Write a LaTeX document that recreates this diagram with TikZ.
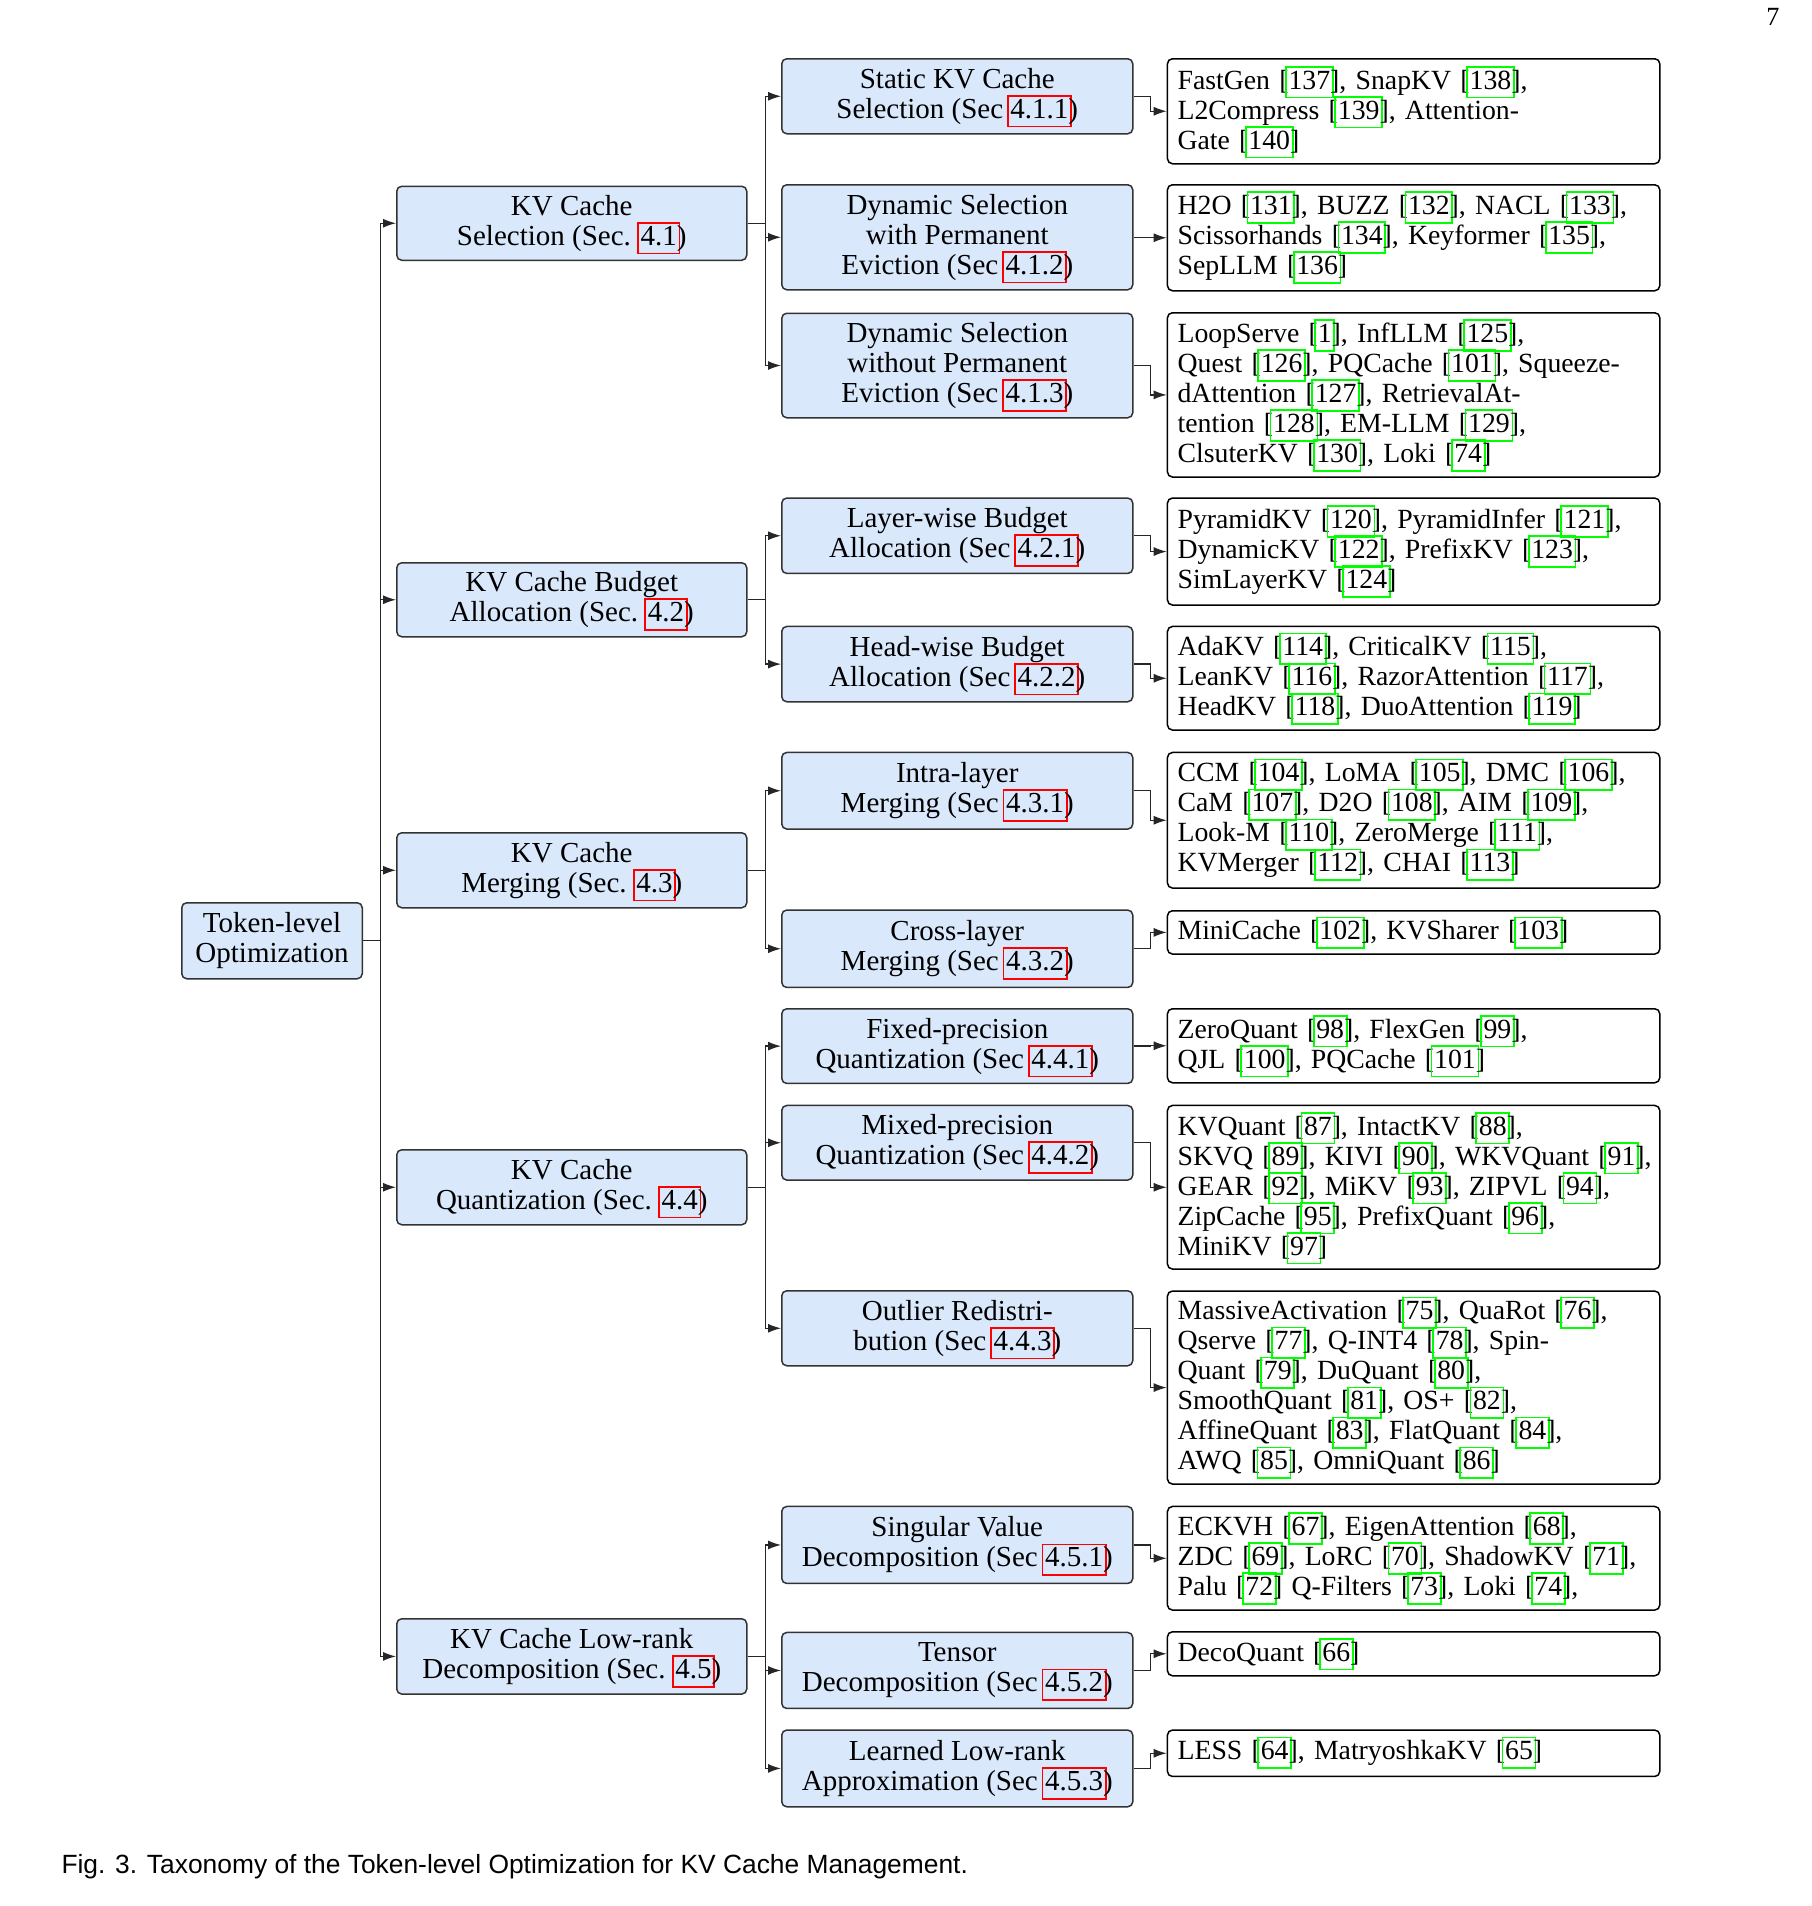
\documentclass[tikz,border=0pt]{standalone}
\usepackage{fontspec}
\setmainfont{Liberation Serif}
\newfontfamily\capfont{Liberation Sans}
\usetikzlibrary{arrows.meta}
\definecolor{boxblue}{HTML}{DAE8FC}
\definecolor{refgreen}{rgb}{0,1,0}
\definecolor{refred}{rgb}{1,0,0}
\definecolor{edgegray}{HTML}{333333}
\newcommand{\hlbox}[2]{\leavevmode\rlap{\smash{\kern-1.4pt\textcolor{#1}{\fboxsep=0pt\fboxrule=0.7pt\fbox{\rule[-3pt]{0pt}{11.6pt}\phantom{#2}\kern1.4pt}}}}#2}
\newcommand{\gb}[1]{\hlbox{refgreen}{#1}}
\newcommand{\rb}[1]{\hlbox{refred}{#1}}
\newcommand{\cit}[1]{[\gb{#1}]}
\newcommand{\lline}[1]{\mbox{#1}}
\newcommand{\mkbox}[7]{\node[#2, minimum width={(#5-#3)*0.4pt}, minimum height={(#6-#4)*0.4pt}] (#1) at (#3,#4) {#7};}
\tikzset{
  bluebox/.style={font=\fontsize{11.6}{12}\selectfont, draw=edgegray, fill=boxblue, line width=0.6pt, rounded corners=2pt, align=center, inner sep=2pt, anchor=north west},
  leafbox/.style={font=\fontsize{11.1}{12}\selectfont, draw=black, fill=white, line width=0.6pt, rounded corners=2pt, align=left, text width=188.8pt, inner xsep=4pt, inner ysep=2pt, anchor=north west},
  conn/.style={draw=black!85, line width=0.5pt, -{Latex[length=5.2pt,width=3.6pt]}},
}
\begin{document}
\begin{tikzpicture}[x=0.4pt, y=-0.4pt]
\fill[white] (0,0) rectangle (1812,1906);
\useasboundingbox (0,0) rectangle (1812,1906);

% root
\mkbox{root}{bluebox}{181}{902}{361.5}{978}{Token-level\\Optimization}

% level 1
\mkbox{sel}{bluebox}{396}{185.5}{746}{259.5}{KV Cache\\Selection (Sec. \rb{4.1})}
\mkbox{bud}{bluebox}{396}{562}{746}{636}{KV Cache Budget\\Allocation (Sec. \rb{4.2})}
\mkbox{mer}{bluebox}{396}{832}{746}{907}{KV Cache\\Merging (Sec. \rb{4.3})}
\mkbox{qua}{bluebox}{396}{1149}{746}{1224}{KV Cache\\Quantization (Sec. \rb{4.4})}
\mkbox{low}{bluebox}{396}{1618}{746}{1693.3}{KV Cache Low-rank\\Decomposition (Sec. \rb{4.5})}

% level 2
\mkbox{sta}{bluebox}{781}{58}{1132}{133}{Static KV Cache\\Selection (Sec \rb{4.1.1})}
\mkbox{dyw}{bluebox}{781}{184}{1132}{289}{Dynamic Selection\\with Permanent\\Eviction (Sec \rb{4.1.2})}
\mkbox{dyo}{bluebox}{781}{312.5}{1132}{417}{Dynamic Selection\\without Permanent\\Eviction (Sec \rb{4.1.3})}
\mkbox{lay}{bluebox}{781}{497.3}{1132}{572.7}{Layer-wise Budget\\Allocation (Sec \rb{4.2.1})}
\mkbox{hea}{bluebox}{781}{625.7}{1132}{701}{Head-wise Budget\\Allocation (Sec \rb{4.2.2})}
\mkbox{intra}{bluebox}{781}{751.7}{1132}{828.3}{Intra-layer\\Merging (Sec \rb{4.3.1})}
\mkbox{cross}{bluebox}{781}{909.3}{1132}{986.7}{Cross-layer\\Merging (Sec \rb{4.3.2})}
\mkbox{fix}{bluebox}{781}{1008}{1132}{1082.7}{Fixed-precision\\Quantization (Sec \rb{4.4.1})}
\mkbox{mix}{bluebox}{781}{1104.7}{1132}{1179.3}{Mixed-precision\\Quantization (Sec \rb{4.4.2})}
\mkbox{out}{bluebox}{781}{1290}{1132}{1365}{Outlier Redistri-\\bution (Sec \rb{4.4.3})}
\mkbox{svd}{bluebox}{781}{1505.7}{1132}{1582.7}{Singular Value\\Decomposition (Sec \rb{4.5.1})}
\mkbox{ten}{bluebox}{781}{1631.7}{1132}{1707.7}{Tensor\\Decomposition (Sec \rb{4.5.2})}
\mkbox{lea}{bluebox}{781}{1729.3}{1132}{1806}{Learned Low-rank\\Approximation (Sec \rb{4.5.3})}

% leaves
\mkbox{l1}{leafbox}{1166.7}{58}{1659}{163}{\lline{FastGen \cit{137}, SnapKV \cit{138},}\\\lline{L2Compress \cit{139}, Attention-}\\\lline{Gate \cit{140}}}
\mkbox{l2}{leafbox}{1166.7}{184}{1659}{290}{\lline{H2O \cit{131}, BUZZ \cit{132}, NACL \cit{133},}\\\lline{Scissorhands \cit{134}, Keyformer \cit{135},}\\\lline{SepLLM \cit{136}}}
\mkbox{l3}{leafbox}{1166.7}{312}{1659}{476.3}{\lline{LoopServe \cit{1}, InfLLM \cit{125},}\\\lline{Quest \cit{126}, PQCache \cit{101}, Squeeze-}\\\lline{dAttention \cit{127}, RetrievalAt-}\\\lline{tention \cit{128}, EM-LLM \cit{129},}\\\lline{ClsuterKV \cit{130}, Loki \cit{74}}}
\mkbox{l4}{leafbox}{1166.7}{497.3}{1659}{604.3}{\lline{PyramidKV \cit{120}, PyramidInfer \cit{121},}\\\lline{DynamicKV \cit{122}, PrefixKV \cit{123},}\\\lline{SimLayerKV \cit{124}}}
\mkbox{l5}{leafbox}{1166.7}{625.7}{1659}{729.3}{\lline{AdaKV \cit{114}, CriticalKV \cit{115},}\\\lline{LeanKV \cit{116}, RazorAttention \cit{117},}\\\lline{HeadKV \cit{118}, DuoAttention \cit{119}}}
\mkbox{l6}{leafbox}{1166.7}{751.7}{1659}{887.3}{\lline{CCM \cit{104}, LoMA \cit{105}, DMC \cit{106},}\\\lline{CaM \cit{107}, D2O \cit{108}, AIM \cit{109},}\\\lline{Look-M \cit{110}, ZeroMerge \cit{111},}\\\lline{KVMerger \cit{112}, CHAI \cit{113}}}
\mkbox{l7}{leafbox}{1166.7}{910}{1659}{953.3}{\lline{MiniCache \cit{102}, KVSharer \cit{103}}}
\mkbox{l8}{leafbox}{1166.7}{1008}{1659}{1082}{\lline{ZeroQuant \cit{98}, FlexGen \cit{99},}\\\lline{QJL \cit{100}, PQCache \cit{101}}}
\mkbox{l9}{leafbox}{1166.7}{1104.7}{1659}{1268.3}{\lline{KVQuant \cit{87}, IntactKV \cit{88},}\\\lline{SKVQ \cit{89}, KIVI \cit{90}, WKVQuant \cit{91},}\\\lline{GEAR \cit{92}, MiKV \cit{93}, ZIPVL \cit{94},}\\\lline{ZipCache \cit{95}, PrefixQuant \cit{96},}\\\lline{MiniKV \cit{97}}}
\mkbox{l10}{leafbox}{1166.7}{1290.3}{1659}{1483.3}{\lline{MassiveActivation \cit{75}, QuaRot \cit{76},}\\\lline{Qserve \cit{77}, Q-INT4 \cit{78}, Spin-}\\\lline{Quant \cit{79}, DuQuant \cit{80},}\\\lline{SmoothQuant \cit{81}, OS+ \cit{82},}\\\lline{AffineQuant \cit{83}, FlatQuant \cit{84},}\\\lline{AWQ \cit{85}, OmniQuant \cit{86}}}
\mkbox{l11}{leafbox}{1166.7}{1505.7}{1659}{1609.3}{\lline{ECKVH \cit{67}, EigenAttention \cit{68},}\\\lline{ZDC \cit{69}, LoRC \cit{70}, ShadowKV \cit{71},}\\\lline{Palu \cit{72} Q-Filters \cit{73}, Loki \cit{74},}}
\mkbox{l12}{leafbox}{1166.7}{1631}{1659}{1675}{\lline{DecoQuant \cit{66}}}
\mkbox{l13}{leafbox}{1166.7}{1729.3}{1659}{1775.7}{\lline{LESS \cit{64}, MatryoshkaKV \cit{65}}}

% connectors root -> level 1
\foreach \c in {sel,bud,mer,qua,low}
  \draw[conn] (root.east) -- ++(17.5,0) |- (\c.west);
% level 1 -> level 2
\foreach \p/\c in {sel/sta,sel/dyw,sel/dyo,bud/lay,bud/hea,mer/intra,mer/cross,qua/fix,qua/mix,qua/out,low/svd,low/ten,low/lea}
  \draw[conn] (\p.east) -- ++(18,0) |- (\c.west);
% level 2 -> leaves
\foreach \p/\c in {sta/l1,dyw/l2,dyo/l3,lay/l4,hea/l5,intra/l6,cross/l7,fix/l8,mix/l9,out/l10,svd/l11,ten/l12,lea/l13}
  \draw[conn] (\p.east) -- ++(17,0) |- (\c.west);

% caption and page number
\node[anchor=base west, inner sep=0pt, font=\fontsize{10.55}{12}\capfont] (cap) at (61,1873) {Fig. 3. Taxonomy of the Token-level Optimization for KV Cache Management.};
\node[anchor=base east, inner sep=0pt, font=\fontsize{10.5}{12}\selectfont] (pg) at (1780,25) {7};
\end{tikzpicture}
\end{document}
